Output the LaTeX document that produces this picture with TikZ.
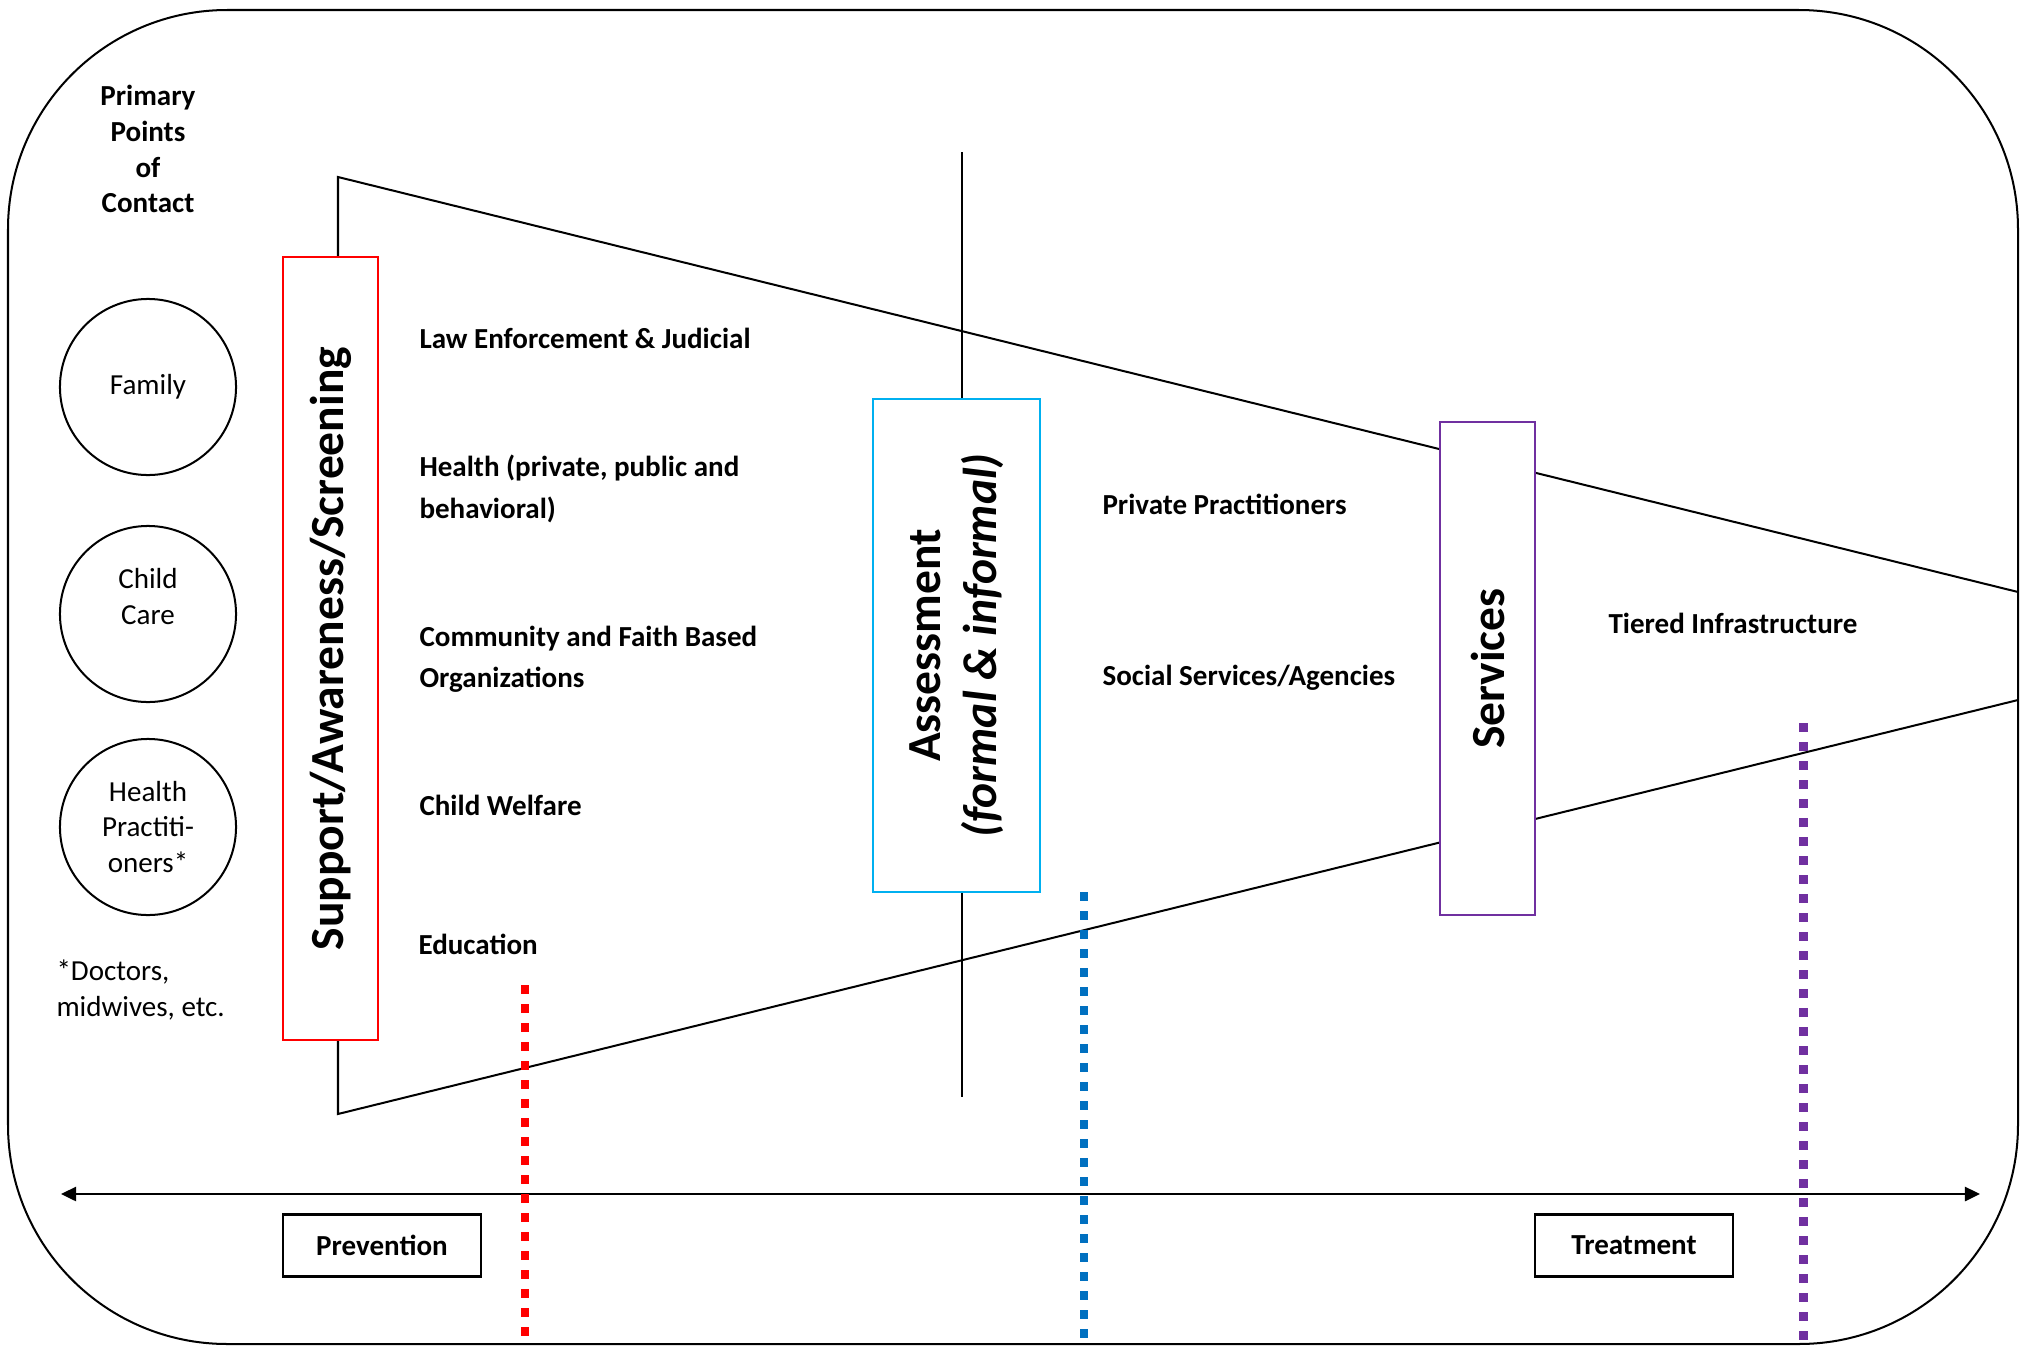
\documentclass[tikz,border=0pt]{standalone}
\usepackage{fontspec}
\setmainfont{Carlito}
\usetikzlibrary{arrows.meta}
\definecolor{screenred}{HTML}{FF0000}
\definecolor{assessblue}{HTML}{00B0F0}
\definecolor{servpurple}{HTML}{7030A0}
\definecolor{dotblue}{HTML}{0070C0}

\begin{document}
\begin{tikzpicture}[x=0.3788pt, y=-0.3788pt,
        every node/.style={font=\fontsize{11}{13.6}\selectfont},
        lbl/.style={anchor=west, inner sep=0pt, align=left, font=\fontsize{11}{15.6}\selectfont\bfseries},
        contact/.style={draw, circle, line width=0.76pt, minimum size=66.7pt, inner sep=0pt, align=center},
        stage/.style={draw, rotate=90, line width=0.8pt, fill=white, align=center, inner sep=0pt, font=\fontsize{18}{21}\selectfont\bfseries},
        endbox/.style={draw, line width=1pt, minimum width=75pt, minimum height=23.5pt, font=\fontsize{11}{13.6}\selectfont\bfseries},
        dots/.style={line width=3.4pt, dash pattern=on 3.4pt off 3.8pt}]
        \useasboundingbox (0,0) rectangle (2024,1346);
        \draw[line width=0.76pt, rounded corners=83pt] (8,10) rectangle (2018,1344);

        \coordinate (tl) at (338,177);
        \coordinate (bl) at (338,1114);
        \coordinate (tr) at (2018,592);
        \coordinate (br) at (2018,700);
        \draw[line width=0.76pt] (tr) -- (tl) -- (bl) -- (br);
        \coordinate (mt) at (962,152);
        \coordinate (mb) at (962,1097);
        \draw[line width=0.76pt] (mt) -- (mb);

        \node[align=center, font=\fontsize{11}{13.6}\selectfont\bfseries] (ppc) at (148,149) {Primary\\Points\\of\\Contact};
        \node[contact] (family) at (148,387) {Family};
        \node[contact] (care) at (148,614) {Child\\Care\\\mbox{}};
        \node[contact] (health) at (148,827) {Health\\Practiti-\\oners*};
        \node[anchor=west, align=left, inner sep=0pt] (note) at (56,990) {*Doctors,\\midwives, etc.};

        \node[stage, draw=screenred, minimum width=296.6pt, minimum height=36pt] (support) at (330.5,648.5) {Support/Awareness/Screening};
        \node[stage, draw=assessblue, minimum width=186.7pt, minimum height=63.3pt] (assess) at (956.5,645.5) {Assessment\\\textit{(formal \& informal)}};
        \node[stage, draw=servpurple, minimum width=186.7pt, minimum height=36pt] (services) at (1487.5,668.5) {Services};

        \node[lbl] (law) at (419,338) {Law Enforcement \& Judicial};
        \node[lbl] (health2) at (419,489) {Health (private, public and\\behavioral)};
        \node[lbl] (faith) at (419,659) {Community and Faith Based\\Organizations};
        \node[lbl] (welfare) at (419,805) {Child Welfare};
        \node[lbl] (edu) at (418,944) {Education};
        \node[lbl] (private) at (1102,504) {Private Practitioners};
        \node[lbl] (social) at (1102,678) {Social Services/Agencies};
        \node[lbl] (tiered) at (1608,623) {Tiered Infrastructure};

        \coordinate (aleft) at (61,1194);
        \coordinate (aright) at (1980,1194);
        \draw[line width=1pt, {Triangle[length=5.7pt,width=5.3pt]}-{Triangle[length=5.7pt,width=5.3pt]}] (aleft) -- (aright);

        \coordinate (rtop) at (525,985);
        \coordinate (rbot) at (525,1360);
        \coordinate (btop) at (1084,892);
        \coordinate (bbot) at (1084,1360);
        \coordinate (ptop) at (1803,723);
        \coordinate (pbot) at (1803,1360);
        \draw[dots, screenred] (rtop) -- (rbot);
        \draw[dots, dotblue] (btop) -- (bbot);
        \draw[dots, servpurple] (ptop) -- (pbot);

        \node[endbox] (prev) at (382,1245.5) {Prevention};
        \node[endbox] (treat) at (1634,1245.5) {Treatment};
\end{tikzpicture}
\end{document}
